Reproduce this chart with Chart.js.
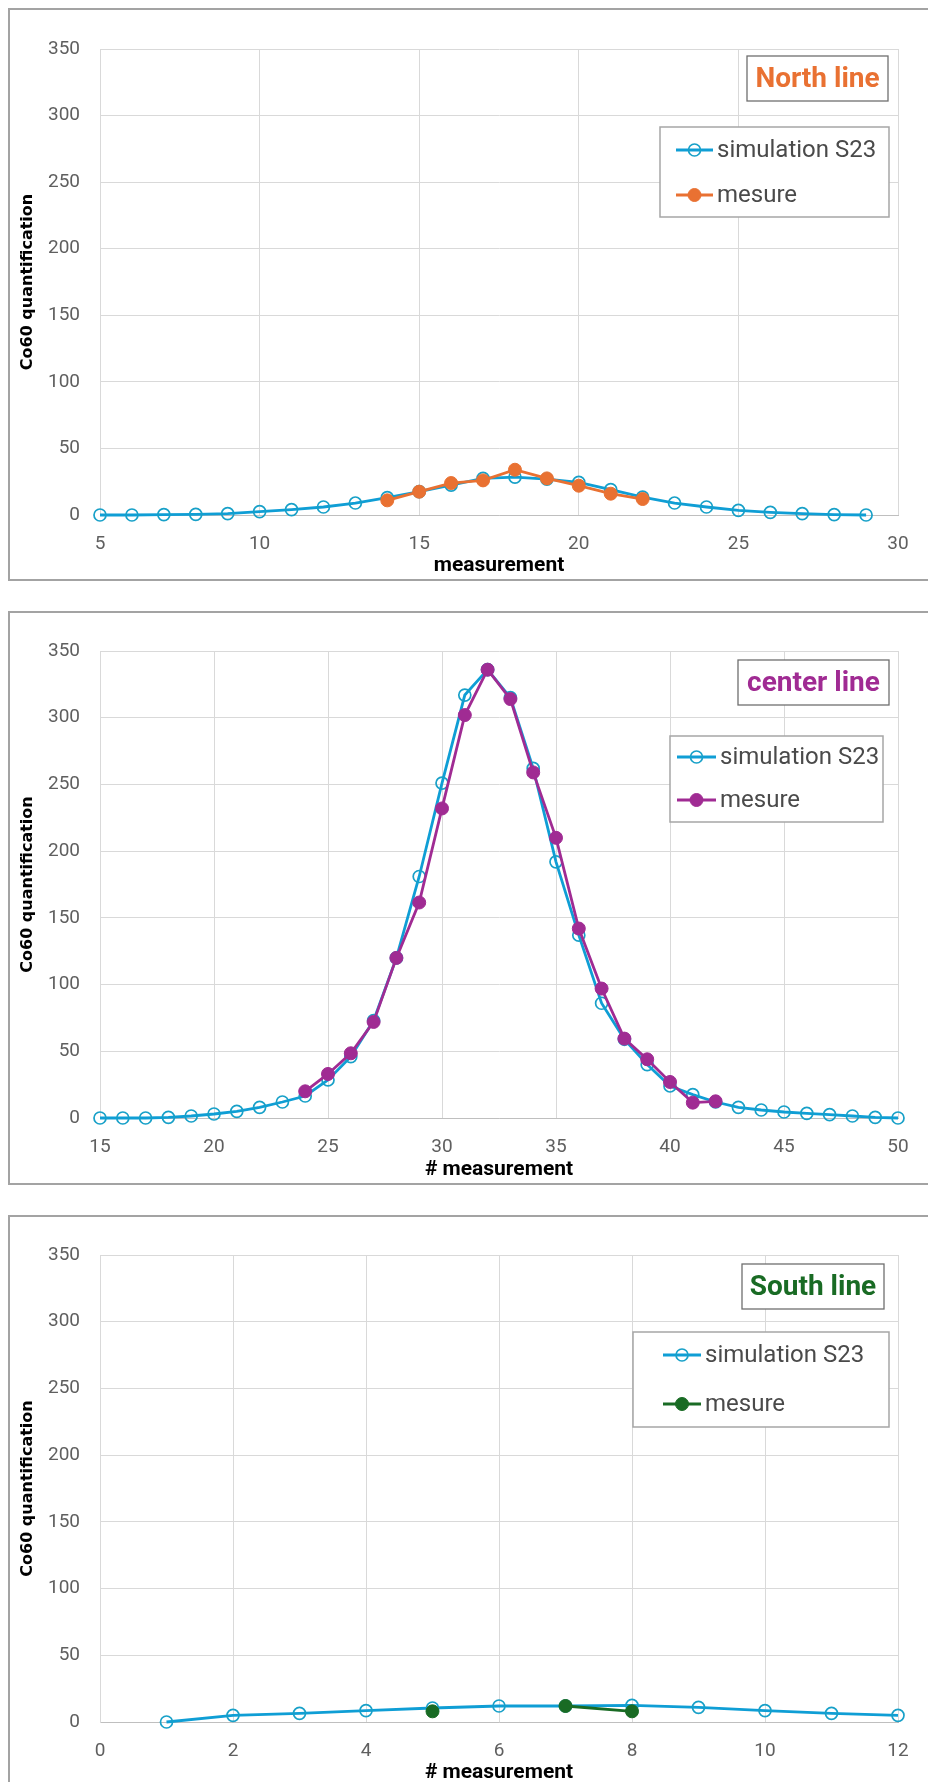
<!DOCTYPE html>
<html lang="en">
<head>
<meta charset="UTF-8">
<title>Co60 quantification</title>
<script src="https://cdn.jsdelivr.net/npm/chart.js"></script>
<style>
  html, body { margin: 0; padding: 0; background: #fff; }
  body { position: relative; width: 928px; height: 1782px; overflow: hidden; }
  .frame { position: absolute; left: 8px; width: 940px; border: 2px solid #a3a3a3; box-sizing: border-box; }
  canvas { position: absolute; left: 0; }
</style>
</head>
<body>
<div class="frame" style="top:8px;height:573px"></div>
<div class="frame" style="top:611px;height:574px"></div>
<div class="frame" style="top:1215px;height:600px"></div>
<canvas id="north" width="928" height="600" style="top:0"></canvas>
<canvas id="center" width="928" height="600" style="top:600px"></canvas>
<canvas id="south" width="928" height="600" style="top:1200px"></canvas>

<script>
// ---- data ----
const yTicks = [0, 50, 100, 150, 200, 250, 300, 350];

const northXTicks = [5, 10, 15, 20, 25, 30];
const northSimX = [5, 6, 7, 8, 9, 10, 11, 12, 13, 14, 15, 16, 17, 18, 19, 20, 21, 22, 23, 24, 25, 26, 27, 28, 29];
const northSim  = [0, 0, 0.3, 0.5, 1, 2.5, 4, 6, 9, 13, 17.5, 22.5, 27.5, 28.5, 27, 24.5, 19, 13.5, 9, 6, 3.5, 2, 1, 0.3, 0];
const northMesX = [14, 15, 16, 17, 18, 19, 20, 21, 22];
const northMes  = [11, 17.5, 24, 26, 34, 27.5, 22, 16, 12];

const centerXTicks = [15, 20, 25, 30, 35, 40, 45, 50];
const centerSimX = [15, 16, 17, 18, 19, 20, 21, 22, 23, 24, 25, 26, 27, 28, 29, 30, 31, 32,
                    33, 34, 35, 36, 37, 38, 39, 40, 41, 42, 43, 44, 45, 46, 47, 48, 49, 50];
const centerSim  = [0, 0, 0, 0.5, 1.5, 3, 5, 8, 12, 16.5, 28.5, 46, 73, 120, 181, 251, 317, 336,
                    315, 262, 192, 137, 86, 59, 40, 24, 17.5, 12, 8, 6, 4.5, 3.5, 2.5, 1.5, 0.5, 0];
const centerMesX = [24, 25, 26, 27, 28, 29, 30, 31, 32, 33, 34, 35, 36, 37, 38, 39, 40, 41, 42];
const centerMes  = [20, 33, 48.5, 72, 120, 161.5, 232, 302, 336, 314, 259, 210, 142, 97, 59.5, 44, 27, 11.5, 12.5];

const southXTicks = [0, 2, 4, 6, 8, 10, 12];
const southSimX = [1, 2, 3, 4, 5, 6, 7, 8, 9, 10, 11, 12];
const southSim  = [0, 5, 6.5, 8.5, 10.5, 12, 12, 12.5, 11, 8.5, 6.5, 5];
const southMesX = [5, 6, 7, 8];
const southMes  = [8, null, 12, 8];

// ---- styles ----
const SIM_BLUE = '#0F9ED5';
const GRID = '#d9d9d9';
const TICK_FONT = { family: 'Roboto', size: 19 };

function pts(xs, ys) {
    return xs.map((x, i) => ({ x: x, y: ys[i] }));
}

// draws the boxed title and the line+marker legend
const boxesPlugin = {
    id: 'boxes',
    afterDatasetsDraw(chart, args, opts) {
        const ctx = chart.ctx;
        ctx.save();

        const t = opts.title;
        ctx.fillStyle = '#fff';
        ctx.fillRect(t.x, t.y, t.w, t.h);
        ctx.strokeStyle = '#6f6f6f';
        ctx.lineWidth = 1.3;
        ctx.strokeRect(t.x, t.y, t.w, t.h);
        ctx.fillStyle = t.color;
        ctx.font = 'bold 28px Roboto';
        ctx.textAlign = 'center';
        ctx.textBaseline = 'middle';
        ctx.fillText(t.text, t.x + t.w / 2, t.y + t.h / 2 + 1);

        const l = opts.legend;
        ctx.fillStyle = '#fff';
        ctx.fillRect(l.x, l.y, l.w, l.h);
        ctx.strokeStyle = '#a6a6a6';
        ctx.lineWidth = 1.5;
        ctx.strokeRect(l.x, l.y, l.w, l.h);

        chart.data.datasets.forEach((ds, i) => {
            const y = l.y + l.rows[i];
            ctx.strokeStyle = ds.borderColor;
            ctx.lineWidth = ds.borderWidth;
            ctx.beginPath();
            ctx.moveTo(l.lx, y);
            ctx.lineTo(l.lx + l.lw, y);
            ctx.stroke();
            ctx.beginPath();
            ctx.arc(l.lx + l.lw / 2, y, ds.pointRadius, 0, Math.PI * 2);
            ctx.fillStyle = ds.pointBackgroundColor;
            ctx.fill();
            ctx.strokeStyle = ds.pointBorderColor;
            ctx.lineWidth = ds.pointBorderWidth;
            ctx.stroke();
            ctx.fillStyle = '#4a4a4a';
            ctx.font = '24px Roboto';
            ctx.textAlign = 'left';
            ctx.textBaseline = 'middle';
            ctx.fillText(ds.label, l.lx + l.lw + 4, y + 1);
        });
        ctx.restore();
    }
};

function makeChart(id, cfg) {
    const ctx = document.getElementById(id).getContext('2d');
    return new Chart(ctx, {
        type: 'line',
        data: {
            datasets: [{
                label: 'simulation S23',
                data: pts(cfg.simX, cfg.sim),
                borderColor: SIM_BLUE,
                borderWidth: 2.8,
                pointRadius: 6,
                pointBorderWidth: 1.7,
                pointBorderColor: '#17a0c8',
                pointBackgroundColor: 'rgba(255,255,255,0)',
                tension: 0,
                clip: false,
                order: 1
            }, {
                label: 'mesure',
                data: pts(cfg.mesX, cfg.mes),
                borderColor: cfg.color,
                borderWidth: 2.8,
                pointRadius: 6.5,
                pointBorderWidth: 1,
                pointBorderColor: cfg.color,
                pointBackgroundColor: cfg.color,
                tension: 0,
                spanGaps: false,
                clip: false,
                order: 0
            }]
        },
        options: {
            responsive: false,
            animation: false,
            devicePixelRatio: 1,
            layout: { padding: { left: 0, right: 30, top: cfg.padTop, bottom: cfg.padBottom } },
            plugins: {
                legend: { display: false },
                tooltip: { enabled: false },
                boxes: { title: cfg.titleBox, legend: cfg.legendBox }
            },
            scales: {
                x: {
                    type: 'linear',
                    min: cfg.xTicks[0],
                    max: cfg.xTicks[cfg.xTicks.length - 1],
                    afterBuildTicks: s => { s.ticks = cfg.xTicks.map(v => ({ value: v })); },
                    afterFit: s => { s.height = 70; },
                    grid: { color: GRID, lineWidth: 1, drawTicks: false },
                    border: { color: '#bfbfbf', width: 1 },
                    ticks: { font: TICK_FONT, color: '#5f5f5f', padding: 18, maxRotation: 0 },
                    title: {
                        display: true,
                        text: cfg.xTitle,
                        font: { family: 'Roboto', size: 21, weight: 'bold' },
                        color: '#000',
                        padding: { top: 0, bottom: cfg.xTitlePad }
                    }
                },
                y: {
                    min: 0,
                    max: 350,
                    afterBuildTicks: s => { s.ticks = yTicks.map(v => ({ value: v })); },
                    afterFit: s => { s.width = 100; },
                    grid: { color: GRID, lineWidth: 1, drawTicks: false },
                    border: { color: GRID, width: 1 },
                    ticks: { font: TICK_FONT, color: '#5f5f5f', padding: 20 },
                    title: {
                        display: true,
                        text: 'Co60 quantification',
                        font: { family: 'DejaVu Sans', size: 16, weight: 'bold' },
                        color: '#000',
                        padding: { top: 18, bottom: 0 }
                    }
                }
            }
        },
        plugins: [boxesPlugin]
    });
}

makeChart('north', {
    simX: northSimX, sim: northSim, mesX: northMesX, mes: northMes,
    xTicks: northXTicks, color: '#E97132', xTitle: 'measurement',
    padTop: 49, padBottom: 15, xTitlePad: 7,
    titleBox: { x: 747, y: 56, w: 141, h: 45, text: 'North line', color: '#E97132' },
    legendBox: { x: 660, y: 127, w: 229, h: 90, rows: [23, 68], lx: 676, lw: 37 }
});

makeChart('center', {
    simX: centerSimX, sim: centerSim, mesX: centerMesX, mes: centerMes,
    xTicks: centerXTicks, color: '#A02B93', xTitle: '# measurement',
    padTop: 51, padBottom: 12, xTitlePad: 6,
    titleBox: { x: 738, y: 60, w: 151, h: 45, text: 'center line', color: '#A02B93' },
    legendBox: { x: 670, y: 136, w: 213, h: 86, rows: [21, 64], lx: 677, lw: 39 }
});

makeChart('south', {
    simX: southSimX, sim: southSim, mesX: southMesX, mes: southMes,
    xTicks: southXTicks, color: '#196B24', xTitle: '# measurement',
    padTop: 55, padBottom: 8, xTitlePad: 7,
    titleBox: { x: 742, y: 64, w: 142, h: 45, text: 'South line', color: '#196B24' },
    legendBox: { x: 633, y: 132, w: 256, h: 95, rows: [23, 72], lx: 663, lw: 38 }
});
</script>
</body>
</html>
